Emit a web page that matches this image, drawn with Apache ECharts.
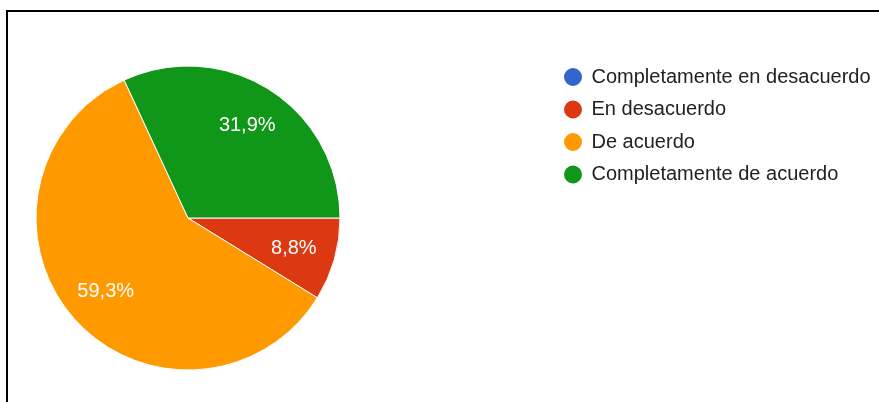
<!DOCTYPE html>
<html>
<head>
<meta charset="utf-8">
<script src="https://cdn.jsdelivr.net/npm/echarts@6/dist/echarts.min.js"></script>
<style>
  html, body { margin: 0; padding: 0; background: #fff; }
  #main { width: 879px; height: 402px; }
</style>
</head>
<body>
<div id="main"></div>
<script>
// respuestas
let categories = ["Completamente en desacuerdo", "En desacuerdo", "De acuerdo", "Completamente de acuerdo"]
let percents = [0, 8.8, 59.3, 31.9]
let colors = ["#3366cc", "#dc3912", "#ff9900", "#109618"]

let pieData = categories.map((name, i) => ({ name: name, value: percents[i] }))

var myChart = echarts.init(document.getElementById('main'))

var option = {
  animation: false,
  color: colors,
  legend: {
    orient: 'vertical',
    left: 557,
    top: 61,
    icon: 'circle',
    itemWidth: 27,
    itemHeight: 20,
    itemGap: 10.5,
    data: categories,
    textStyle: { fontSize: 20, color: '#222', fontFamily: 'Liberation Sans, Arial, sans-serif' }
  },
  graphic: [
    { type: 'line', shape: { x1: 6, y1: 11, x2: 879, y2: 11 }, style: { stroke: '#000', lineWidth: 2 } },
    { type: 'line', shape: { x1: 7, y1: 10, x2: 7, y2: 402 }, style: { stroke: '#000', lineWidth: 2 } }
  ],
  series: [
    {
      type: 'pie',
      center: [188, 218],
      radius: [0, 152],
      startAngle: 0,
      clockwise: true,
      label: { show: false },
      labelLine: { show: false },
      itemStyle: { borderColor: '#fff', borderWidth: 1 },
      emphasis: { scale: false },
      data: pieData
    },
    {
      // capa transparente para colocar las etiquetas a ~0.7 del radio
      type: 'pie',
      silent: true,
      center: [188, 218],
      radius: [62, 152],
      startAngle: 0,
      clockwise: true,
      itemStyle: { color: 'rgba(0,0,0,0)' },
      label: {
        show: true,
        position: 'inside',
        color: '#fff',
        fontSize: 20,
        fontFamily: 'Liberation Sans, Arial, sans-serif',
        formatter: p => p.value.toFixed(1).replace('.', ',') + '%'
      },
      labelLine: { show: false },
      data: pieData.map(d => d.value > 0 ? d : { name: d.name, value: 0, label: { show: false } })
    }
  ]
}

myChart.setOption(option)
</script>
</body>
</html>
